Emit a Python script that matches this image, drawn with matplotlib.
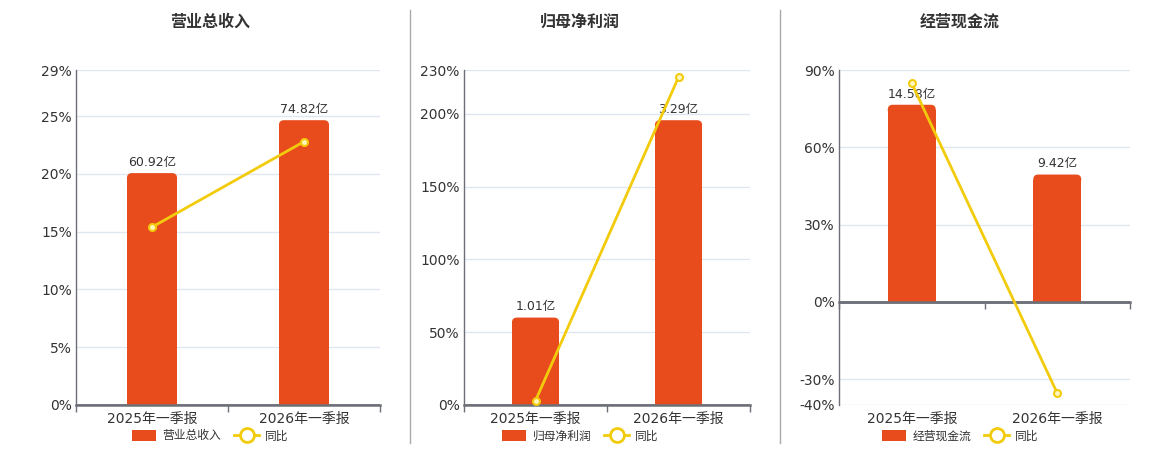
import matplotlib.pyplot as plt
import matplotlib.transforms as mtransforms
from matplotlib.patches import FancyBboxPatch, Patch
from matplotlib.lines import Line2D

plt.rcParams['font.family'] = ['DejaVu Sans', 'Noto Sans CJK SC']

periods = ['2025年一季报', '2026年一季报']
titles = ['营业总收入', '归母净利润', '经营现金流']

revenue = [60.92, 74.82]
revenue_yoy = [15.4, 22.8]
profit = [1.01, 3.29]
profit_yoy = [3.0, 225.0]
cashflow = [14.58, 9.42]
cashflow_yoy = [84.8, -35.4]

bar_color = '#E84C1D'
line_color = '#F2CC0C'
text_color = '#333333'
axis_color = '#6E7079'

# layout in pixels
W, H = 1160, 450
top_px, bottom_px = 70, 405

panels = [
    dict(title=titles[0], bars=revenue, yoy=revenue_yoy,
         ticks=[0, 5, 10, 15, 20, 25, 29], ylim=(0, 29), bar_top=88.0,
         left=76, right=380, center=210),
    dict(title=titles[1], bars=profit, yoy=profit_yoy,
         ticks=[0, 50, 100, 150, 200, 230], ylim=(0, 230), bar_top=3.87,
         left=464, right=750, center=580),
    dict(title=titles[2], bars=cashflow, yoy=cashflow_yoy,
         ticks=[-40, -30, 0, 30, 60, 90], ylim=(-40, 90), bar_top=17.15,
         left=839, right=1130, center=960),
]

fig = plt.figure(figsize=(W / 100, H / 100), dpi=100)

for p in panels:
    rect = [p['left'] / W, 1 - bottom_px / H,
            (p['right'] - p['left']) / W, (bottom_px - top_px) / H]
    ax = fig.add_axes(rect)
    lo, hi = p['ylim']
    ax.set_xlim(-0.5, 1.5)
    ax.set_ylim(lo, hi)
    ax.set_yticks(p['ticks'])
    ax.set_yticklabels([f'{t}%' for t in p['ticks']])
    ax.grid(axis='y', color='#E0E6F1', lw=1)
    ax.set_axisbelow(True)
    for s in ['top', 'right']:
        ax.spines[s].set_visible(False)
    ax.spines['left'].set_color(axis_color)
    ax.spines['left'].set_linewidth(1)
    ax.spines['bottom'].set_position(('data', 0))
    ax.spines['bottom'].set_color(axis_color)
    ax.spines['bottom'].set_linewidth(1.8)
    ax.set_xticks([-0.5, 0.5, 1.5])
    ax.set_xticklabels([])
    ax.tick_params(axis='x', length=5, color=axis_color, width=1, direction='out')
    ax.tick_params(axis='y', length=0, labelsize=10, labelcolor=text_color, pad=3)

    trans = mtransforms.blended_transform_factory(ax.transData, ax.transAxes)
    for i, lab in enumerate(periods):
        ax.text(i, -0.022, lab, transform=trans, ha='center', va='top',
                fontsize=10, color=text_color)

    # bars on their own hidden scale, zero aligned with 0%
    axb = ax.twinx()
    bar_lo = p['bar_top'] * lo / hi
    axb.set_ylim(bar_lo, p['bar_top'])
    axb.axis('off')
    bars = axb.bar(range(len(periods)), p['bars'], width=0.33, color=bar_color, zorder=2)

    w_px = p['right'] - p['left']
    h_px = bottom_px - top_px
    rx = 5 * 2.0 / w_px
    ry = 5 * (p['bar_top'] - bar_lo) / h_px
    for b in bars:
        x, y, bw, bh = b.get_x(), b.get_y(), b.get_width(), b.get_height()
        b.set_height(bh - ry)
        axb.add_patch(FancyBboxPatch((x, y + bh - 2 * ry), bw, 2 * ry,
                                     boxstyle=f'round,pad=0,rounding_size={rx}',
                                     mutation_aspect=ry / rx, fc=bar_color, ec='none', zorder=2))
    for i, v in enumerate(p['bars']):
        axb.annotate(f'{v:.2f}亿', (i, v), xytext=(0, 3), textcoords='offset points',
                     ha='center', va='bottom', fontsize=9, color=text_color)

    # yoy line on top
    axl = ax.twinx()
    axl.set_ylim(lo, hi)
    axl.axis('off')
    axl.axhline(0, color=axis_color, lw=1.8)
    axl.plot(range(len(periods)), p['yoy'], color=line_color, lw=2,
             marker='o', markersize=5, mfc='#FFF6C0', mec=line_color, mew=1.5)

    handles = [Patch(facecolor=bar_color, edgecolor='none'),
               Line2D([], [], color=line_color, lw=2, marker='o', markersize=10,
                      mfc='white', mec=line_color, mew=2)]
    axl.legend(handles, [p['title'], '同比'], loc='center', ncol=2, frameon=False,
               bbox_to_anchor=(p['center'] / W, 1 - 436 / H), bbox_transform=fig.transFigure,
               fontsize=8.5, handlelength=2.1, handleheight=1.1, handletextpad=0.5,
               columnspacing=1.1, labelcolor=text_color)

    fig.text(p['center'] / W, 1 - 22 / H, p['title'], ha='center', va='center',
             fontsize=11.5, fontweight='bold', color=text_color)

for xs in [410, 780]:
    fig.add_artist(Line2D([xs / W, xs / W], [1 - 10 / H, 1 - 443 / H],
                          color='#AAAAAA', lw=1))

fig.savefig('out.png', dpi=100)
